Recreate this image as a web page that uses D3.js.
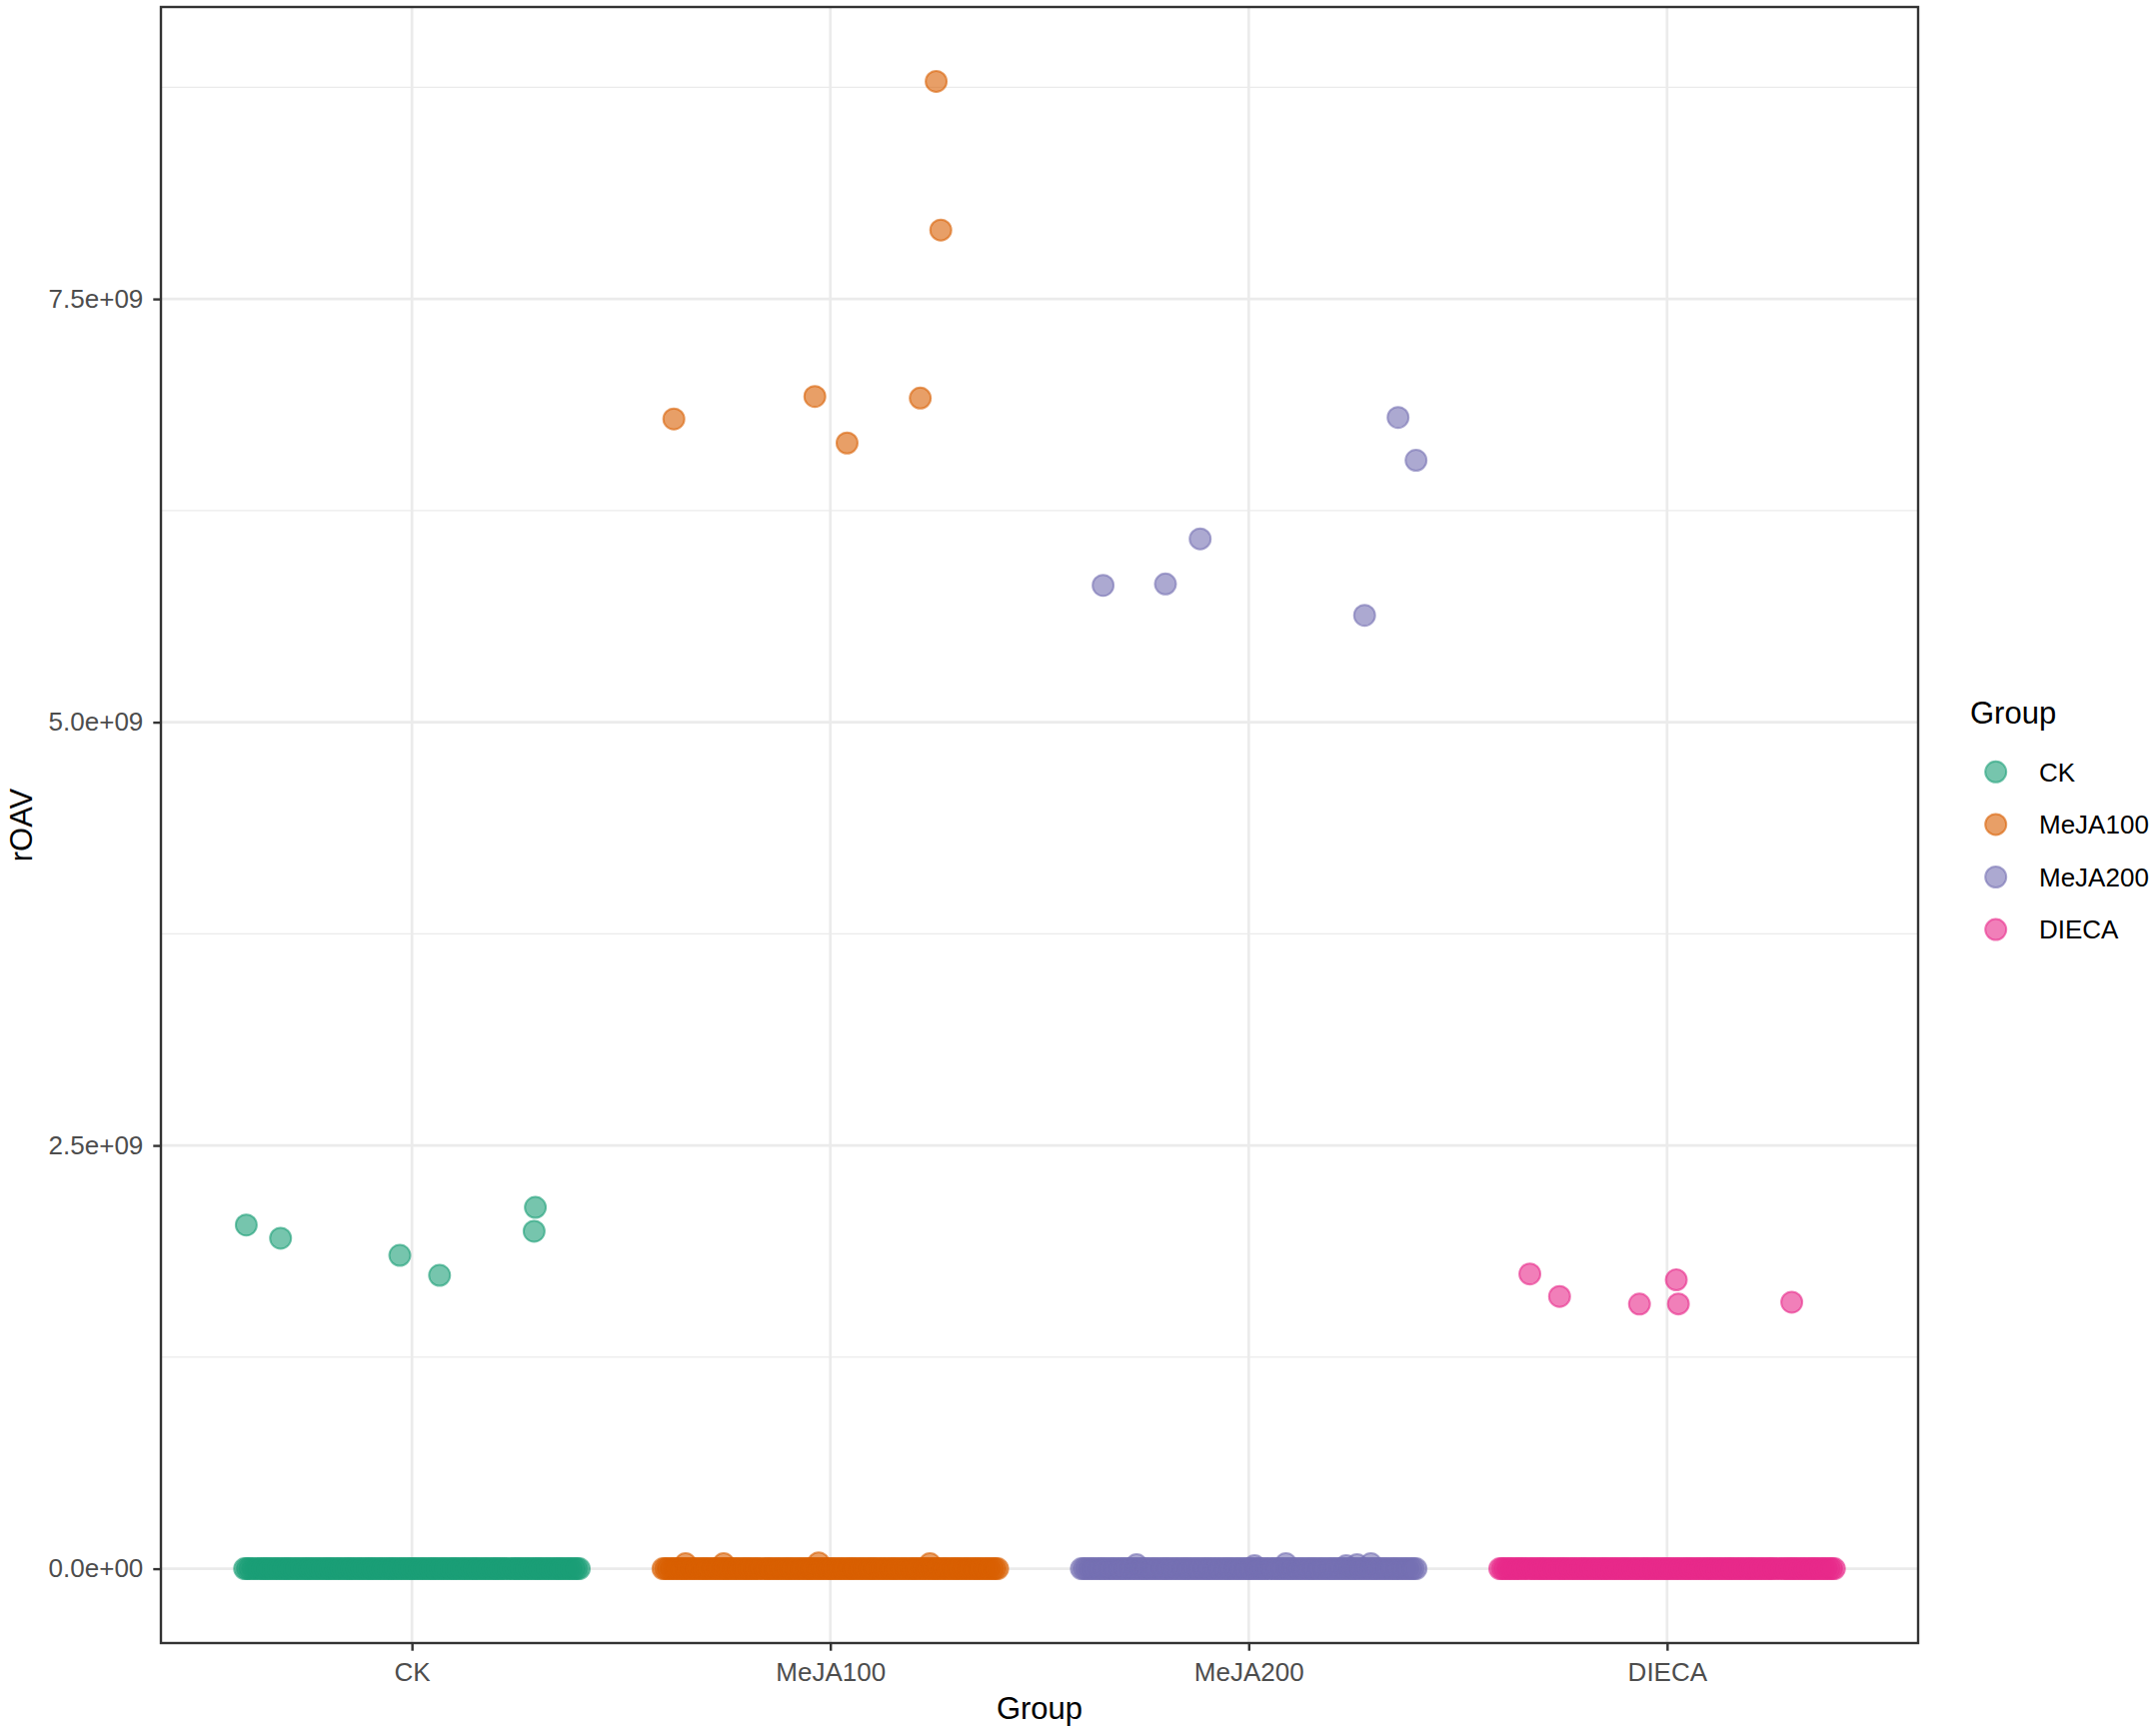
<!DOCTYPE html>
<html>
<head>
<meta charset="utf-8">
<script src="https://cdn.jsdelivr.net/npm/d3@7"></script>
<style>
  body { margin: 0; background: #fff; }
  text { font-family: "Liberation Sans", Arial, sans-serif; }
</style>
</head>
<body>
<svg id="chart"></svg>
<script>
const groups = ["CK", "MeJA100", "MeJA200", "DIECA"];
const groupColors = ["#1B9E77", "#D95F02", "#7570B3", "#E7298A"];

// [jitter offset in category units, rOAV]
const ckHigh = [[-0.396, 2.030e9], [-0.314, 1.952e9], [-0.029, 1.851e9], [0.066, 1.733e9], [0.295, 2.134e9], [0.292, 1.993e9]];
const meja100High = [[0.253, 8.785e9], [0.264, 7.907e9], [-0.374, 6.791e9], [-0.037, 6.924e9], [0.040, 6.649e9], [0.215, 6.914e9]];
const meja200High = [[0.357, 6.800e9], [0.400, 6.547e9], [-0.116, 6.083e9], [-0.348, 5.808e9], [-0.199, 5.816e9], [0.277, 5.631e9]];
const diecaHigh = [[-0.328, 1.741e9], [-0.257, 1.608e9], [-0.066, 1.563e9], [0.022, 1.706e9], [0.027, 1.564e9], [0.298, 1.574e9]];

// small values just above zero, peeking over the band
const ckLow = [];
const meja100Low = [[-0.346, 0.030e9], [-0.255, 0.030e9], [-0.028, 0.035e9], [0.238, 0.030e9]];
const meja200Low = [[-0.268, 0.024e9], [0.014, 0.018e9], [0.089, 0.030e9], [0.233, 0.018e9], [0.259, 0.024e9], [0.292, 0.030e9]];
const diecaLow = [];

// jitter offsets of the many compounds with rOAV = 0
const zeroJitter = [-0.400, -0.388, -0.375, -0.362, -0.350, -0.338, -0.325, -0.312, -0.300, -0.288,
  -0.275, -0.262, -0.250, -0.238, -0.225, -0.212, -0.200, -0.188, -0.175, -0.162,
  -0.150, -0.138, -0.125, -0.112, -0.100, -0.088, -0.075, -0.062, -0.050, -0.038,
  -0.025, -0.012, 0.000, 0.012, 0.025, 0.038, 0.050, 0.062, 0.075, 0.088,
  0.100, 0.112, 0.125, 0.138, 0.150, 0.162, 0.175, 0.188, 0.200, 0.212,
  0.225, 0.238, 0.250, 0.262, 0.275, 0.288, 0.300, 0.312, 0.325, 0.338,
  0.350, 0.362, 0.375, 0.388, 0.400];
const zeroJitterB = [-0.394, -0.381, -0.369, -0.356, -0.344, -0.331, -0.319, -0.306, -0.294, -0.281,
  -0.269, -0.256, -0.244, -0.231, -0.219, -0.206, -0.194, -0.181, -0.169, -0.156,
  -0.144, -0.131, -0.119, -0.106, -0.094, -0.081, -0.069, -0.056, -0.044, -0.031,
  -0.019, -0.006, 0.006, 0.019, 0.031, 0.044, 0.056, 0.069, 0.081, 0.094,
  0.106, 0.119, 0.131, 0.144, 0.156, 0.169, 0.181, 0.194, 0.206, 0.219,
  0.231, 0.244, 0.256, 0.269, 0.281, 0.294, 0.306, 0.319, 0.331, 0.344,
  0.356, 0.369, 0.381, 0.394];

const yTicks = [0, 2.5e9, 5.0e9, 7.5e9];
const yTickLabels = ["0.0e+00", "2.5e+09", "5.0e+09", "7.5e+09"];
const yMinorTicks = [1.25e9, 3.75e9, 6.25e9, 8.75e9];

const highByGroup = [ckHigh, meja100High, meja200High, diecaHigh];
const lowByGroup = [ckLow, meja100Low, meja200Low, diecaLow];

const chartSize = {width: 2157, height: 1735};
const margin = {left: 161, right: 238, top: 7, bottom: 91};
const width = chartSize.width - margin.left - margin.right;
const height = chartSize.height - margin.top - margin.bottom;

const points = [];
groups.forEach((g, i) => {
  lowByGroup[i].forEach(([j, v]) => points.push({group: g, jit: j, value: v}));
  zeroJitter.concat(zeroJitterB).forEach(j => points.push({group: g, jit: j, value: 0}));
  highByGroup[i].forEach(([j, v]) => points.push({group: g, jit: j, value: v}));
});

const color = d3.scaleOrdinal().domain(groups).range(groupColors);

const x = d3.scalePoint()
  .domain(groups)
  .range([0, width])
  .padding(0.6);

const yMax = d3.max(points, d => d.value);
const pad = yMax * 0.05;
const y = d3.scaleLinear()
  .domain([-pad, yMax + pad])
  .range([height, 0]);

const svg = d3.select("#chart")
  .attr("width", chartSize.width)
  .attr("height", chartSize.height);

const g = svg.append("g")
  .attr("transform", `translate(${margin.left},${margin.top})`);

// grid
g.selectAll(".minor").data(yMinorTicks).enter().append("line")
  .attr("x1", 0).attr("x2", width)
  .attr("y1", d => y(d)).attr("y2", d => y(d))
  .attr("stroke", "#EBEBEB").attr("stroke-width", 1.4);

g.selectAll(".major-y").data(yTicks).enter().append("line")
  .attr("x1", 0).attr("x2", width)
  .attr("y1", d => y(d)).attr("y2", d => y(d))
  .attr("stroke", "#EBEBEB").attr("stroke-width", 2.7);

g.selectAll(".major-x").data(groups).enter().append("line")
  .attr("x1", d => x(d)).attr("x2", d => x(d))
  .attr("y1", 0).attr("y2", height)
  .attr("stroke", "#EBEBEB").attr("stroke-width", 2.7);

// points
g.selectAll(".pt").data(points).enter().append("circle")
  .attr("cx", d => x(d.group) + d.jit * x.step())
  .attr("cy", d => y(d.value))
  .attr("r", 10.5)
  .attr("fill", d => color(d.group))
  .attr("fill-opacity", 0.6)
  .attr("stroke", d => color(d.group))
  .attr("stroke-opacity", 0.6)
  .attr("stroke-width", 2);

// panel border
g.append("rect")
  .attr("x", 0).attr("y", 0)
  .attr("width", width).attr("height", height)
  .attr("fill", "none")
  .attr("stroke", "#333333")
  .attr("stroke-width", 2.4);

// axes
const yAxis = d3.axisLeft(y)
  .tickValues(yTicks)
  .tickFormat((d, i) => yTickLabels[i])
  .tickSize(7.7)
  .tickPadding(10);

const yg = g.append("g").call(yAxis);
yg.select(".domain").remove();
yg.selectAll("line").attr("stroke", "#333333").attr("stroke-width", 2.4);
yg.selectAll("text")
  .attr("font-size", 26)
  .attr("font-family", "Liberation Sans, Arial, sans-serif")
  .attr("fill", "#4D4D4D");

const xAxis = d3.axisBottom(x).tickSize(7.7);
const xg = g.append("g")
  .attr("transform", `translate(0,${height})`)
  .call(xAxis);
xg.select(".domain").remove();
xg.selectAll("line").attr("stroke", "#333333").attr("stroke-width", 2.4);
xg.selectAll("text")
  .attr("y", 37.7)
  .attr("dy", 0)
  .attr("font-size", 26)
  .attr("font-family", "Liberation Sans, Arial, sans-serif")
  .attr("fill", "#4D4D4D");

// axis titles
g.append("text")
  .attr("x", width / 2)
  .attr("y", 1720 - margin.top)
  .attr("text-anchor", "middle")
  .attr("font-size", 31)
  .attr("fill", "#000")
  .text("Group");

svg.append("text")
  .attr("transform", `translate(32.3,${margin.top + height / 2}) rotate(-90)`)
  .attr("text-anchor", "middle")
  .attr("font-size", 31)
  .attr("fill", "#000")
  .text("rOAV");

// legend
const legend = svg.append("g").attr("transform", "translate(1971,0)");
legend.append("text")
  .attr("x", 0).attr("y", 724)
  .attr("font-size", 31)
  .attr("fill", "#000")
  .text("Group");

const keys = legend.selectAll(".key").data(groups).enter().append("g")
  .attr("transform", (d, i) => `translate(0,${772.3 + i * 52.6})`);

keys.append("circle")
  .attr("cx", 25.7).attr("cy", 0).attr("r", 10.5)
  .attr("fill", d => color(d))
  .attr("fill-opacity", 0.6)
  .attr("stroke", d => color(d))
  .attr("stroke-opacity", 0.6)
  .attr("stroke-width", 2);

keys.append("text")
  .attr("x", 69).attr("y", 0)
  .attr("dy", "0.36em")
  .attr("font-size", 26)
  .attr("fill", "#000")
  .text(d => d);
</script>
</body>
</html>
